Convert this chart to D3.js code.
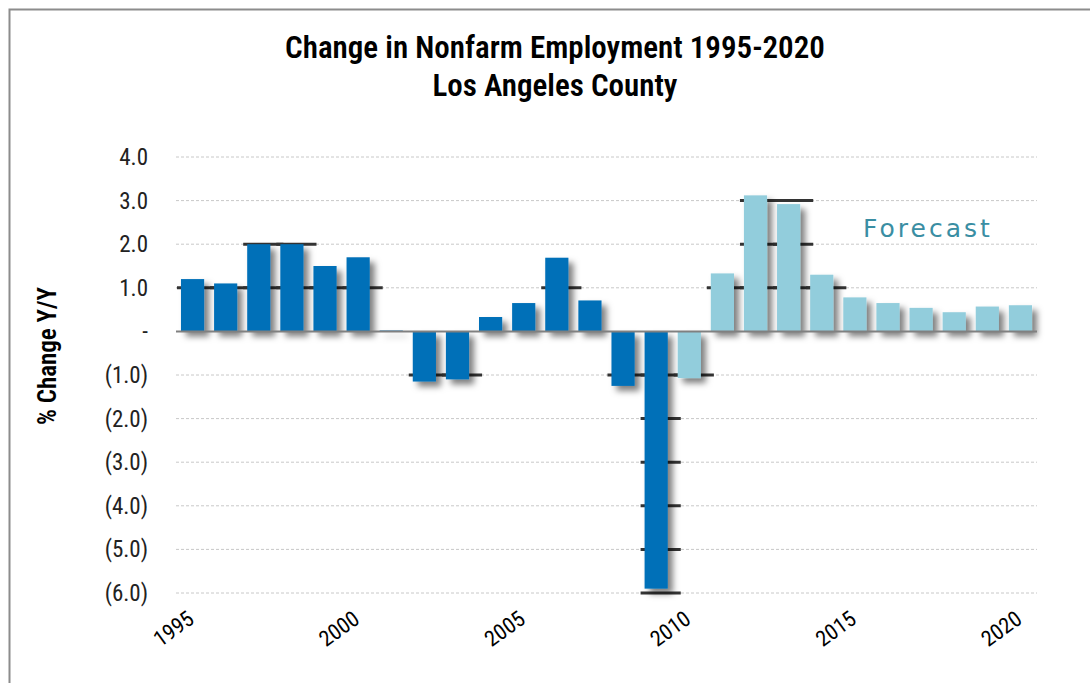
<!DOCTYPE html>
<html>
<script src='https://d3js.org/d3.v7.min.js'></script>
<style>
 body {margin:0; background:#fff;}
 text {font-family: 'Liberation Sans Narrow', 'Arial Narrow', 'Roboto Condensed', sans-serif;}
</style>
<body onload='init()'>
<svg width=1090 height=683></svg>
<script>
var years = d3.range(1995, 2021);
var values = [1.2, 1.1, 2.0, 2.0, 1.5, 1.7, 0.02, -1.15, -1.1, 0.33, 0.65, 1.69, 0.71,
              -1.25, -5.9, -1.07, 1.33, 3.12, 2.92, 1.3, 0.78, 0.65, 0.54, 0.44, 0.57, 0.6];
var forecastFrom = 2010;
var yTicks = [4, 3, 2, 1, 0, -1, -2, -3, -4, -5, -6];
var xTicks = [1995, 2000, 2005, 2010, 2015, 2020];

function init() {
  var svg = d3.select('svg');
  var xs = d3.scaleBand().domain(years).range([176, 1037]).paddingInner(0.3).paddingOuter(0.15);
  var ys = d3.scaleLinear().domain([-6, 4]).range([593, 157]);
  var fmt = function(v){ return v == 0 ? '-' : v < 0 ? '(' + d3.format('.1f')(-v) + ')' : d3.format('.1f')(v); };

  var defs = svg.append('defs');
  defs.append('filter').attr('id', 'sh').attr('x', '-30%').attr('y', '-10%').attr('width', '170%').attr('height', '130%')
    .append('feDropShadow').attr('dx', 5).attr('dy', 5).attr('stdDeviation', 3)
    .attr('flood-color', '#000').attr('flood-opacity', 0.5);

  // frame
  svg.append('path').attr('d', 'M9.5,683 V9.5 H1090').attr('fill', 'none')
    .attr('stroke', '#8c8c8c').attr('stroke-width', 2);

  // grid
  svg.append('g').selectAll('line').data(yTicks.filter(function(t){return t != 0;})).enter().append('line')
    .attr('x1', 176).attr('x2', 1037)
    .attr('y1', function(d){return ys(d);}).attr('y2', function(d){return ys(d);})
    .attr('stroke', '#c8c8c8').attr('stroke-dasharray', '3,2');

  // dark grid dashes behind bars
  var dashes = [];
  years.forEach(function(yr, i){
    var v = values[i];
    yTicks.forEach(function(t){
      if (t != 0 && t * v > 0 && Math.abs(t) <= Math.abs(v) + 0.1) dashes.push({year: yr, t: t});
    });
  });
  svg.append('g').selectAll('line').data(dashes).enter().append('line')
    .attr('x1', function(d){return xs(d.year) - 4;})
    .attr('x2', function(d){return xs(d.year) + xs.bandwidth() + 13;})
    .attr('y1', function(d){return ys(d.t);}).attr('y2', function(d){return ys(d.t);})
    .attr('stroke', '#333').attr('stroke-width', 3);

  // bars
  svg.append('g').attr('filter', 'url(#sh)').selectAll('rect').data(years).enter().append('rect')
    .attr('x', function(d){return xs(d);})
    .attr('width', xs.bandwidth())
    .attr('y', function(d, i){return ys(Math.max(0, values[i]));})
    .attr('height', function(d, i){return Math.abs(ys(values[i]) - ys(0));})
    .attr('fill', function(d){return d >= forecastFrom ? '#92cddc' : '#0070b8';});

  // zero line
  svg.append('line').attr('x1', 176).attr('x2', 1037).attr('y1', ys(0)).attr('y2', ys(0))
    .attr('stroke', '#808080').attr('stroke-width', 2);

  // y labels
  svg.append('g').selectAll('text').data(yTicks).enter().append('text')
    .attr('x', 148).attr('y', function(d){return ys(d);}).attr('dy', '0.35em')
    .attr('text-anchor', 'end').attr('font-size', 23).attr('fill', '#222')
    .text(fmt);

  // x labels
  svg.append('g').selectAll('text').data(xTicks).enter().append('text')
    .attr('transform', function(d){return 'translate(' + (xs(d) + xs.bandwidth() / 2 + 3) + ',622) rotate(-36)';})
    .attr('text-anchor', 'end').attr('font-size', 22).attr('fill', '#000')
    .text(function(d){return d;});

  // y title
  svg.append('text').attr('transform', 'translate(56,356) rotate(-90)')
    .attr('text-anchor', 'middle').attr('font-size', 25).attr('font-weight', 600).attr('fill', '#000')
    .text('% Change Y/Y');

  // title
  svg.append('text').attr('x', 555).attr('y', 58).attr('text-anchor', 'middle')
    .attr('font-size', 31).attr('font-weight', 600).attr('fill', '#000').text('Change in Nonfarm Employment 1995-2020');
  svg.append('text').attr('x', 555).attr('y', 96).attr('text-anchor', 'middle')
    .attr('font-size', 31).attr('font-weight', 600).attr('fill', '#000').text('Los Angeles County');

  // forecast label
  svg.append('text').attr('x', 863).attr('y', 237)
    .style('font-family', '"DejaVu Sans", sans-serif').attr('font-size', 25)
    .attr('letter-spacing', 3).attr('fill', '#3a8ea3').text('Forecast');
}
</script>
</body>
</html>
